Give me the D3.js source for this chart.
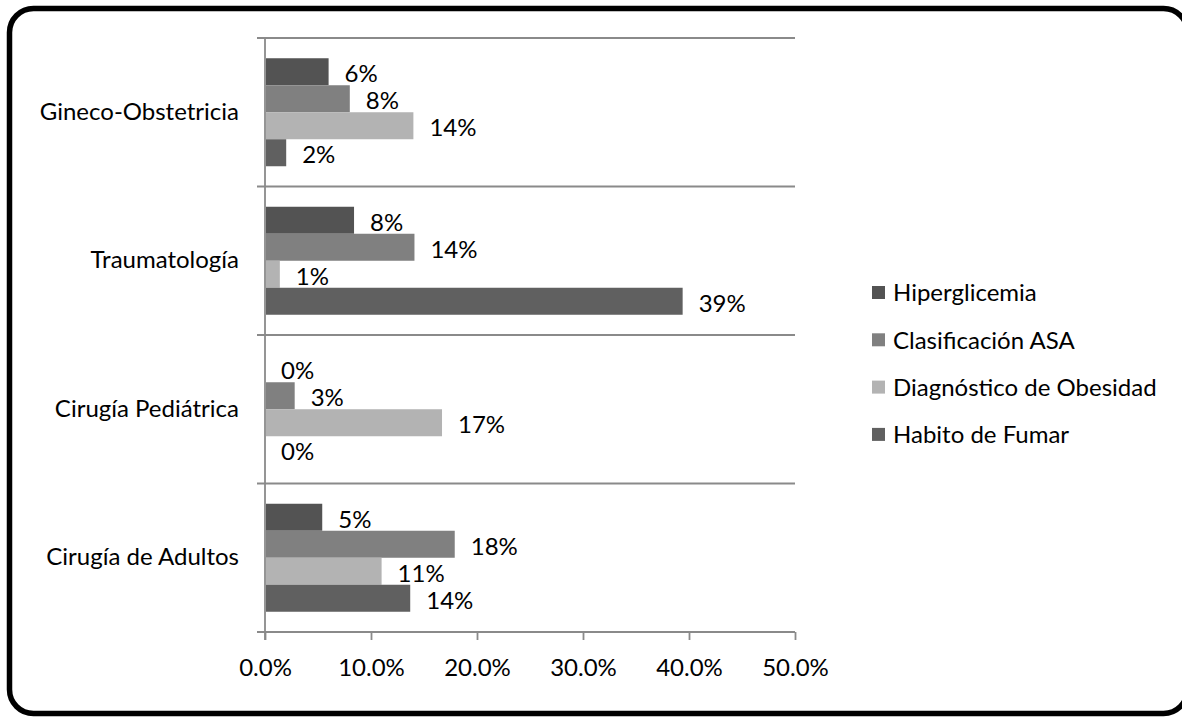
<!DOCTYPE html>
<html>
<head>
<meta charset="utf-8">
<script src="https://cdn.jsdelivr.net/npm/d3@7"></script>
<style>
  html, body { margin: 0; padding: 0; background: #fff; }
  svg { display: block; }
  text { font-family: Lato, "Open Sans", sans-serif; fill: #000; }
</style>
</head>
<body>
<svg id="chart" width="1182" height="717"></svg>
<script>
// Categories, top to bottom
const categories = ["Gineco-Obstetricia", "Traumatología", "Cirugía Pediátrica", "Cirugía de Adultos"];

// Series names (bar order inside each group, top to bottom)
const seriesNames = ["Hiperglicemia", "Clasificación ASA", "Diagnóstico de Obesidad", "Habito de Fumar"];

// Values per series, in category order
const hiperglicemia = [0.060, 0.084, 0.000, 0.054];
const clasificacionASA = [0.080, 0.141, 0.028, 0.179];
const obesidad = [0.140, 0.014, 0.167, 0.110];
const fumar = [0.020, 0.394, 0.000, 0.137];

// Axis ticks
const xTicks = [0, 0.1, 0.2, 0.3, 0.4, 0.5];

const seriesValues = [hiperglicemia, clasificacionASA, obesidad, fumar];
const seriesColors = ["#535353", "#808080", "#b3b3b3", "#606060"];

const FONT = "24px";
const svg = d3.select("#chart");
const plot = { left: 265, right: 795, top: 38, bottom: 632 };

// Rounded frame (its right side runs past the page edge)
svg.append("rect")
  .attr("x", 9.5).attr("y", 8.5)
  .attr("width", 1178).attr("height", 705)
  .attr("rx", 24).attr("ry", 24)
  .attr("fill", "#fff").attr("stroke", "#000").attr("stroke-width", 5.5);

const x = d3.scaleLinear().domain([0, 0.5]).range([plot.left, plot.right]);
const y = d3.scaleBand().domain(categories).range([plot.top, plot.bottom]).padding(0);
const yInner = d3.scaleBand().domain(seriesNames).range([0, y.bandwidth()])
  .paddingInner(0).paddingOuter(0.75);

const axisColor = "#8a8a8a";

// Horizontal separators between categories (extend left as tick marks)
const boundaries = categories.map(c => y(c));
svg.append("g").selectAll("line")
  .data(boundaries)
  .join("line")
  .attr("x1", plot.left - 8).attr("x2", plot.right)
  .attr("y1", d => d).attr("y2", d => d)
  .attr("stroke", axisColor).attr("stroke-width", 1.8);

// Bottom value axis
const xAxis = d3.axisBottom(x).tickValues(xTicks).tickFormat(d3.format(".1%")).tickSize(8).tickSizeOuter(0);
const gx = svg.append("g").attr("transform", `translate(0,${plot.bottom})`).call(xAxis);
gx.select(".domain").attr("stroke", axisColor).attr("stroke-width", 1.8)
  .attr("d", `M${plot.left - 8},0H${plot.right}`);
gx.selectAll(".tick line").attr("stroke", axisColor).attr("stroke-width", 1.8);
gx.selectAll(".tick text")
  .attr("y", 36).attr("dy", "0.35em")
  .style("font-family", "Lato, sans-serif").style("font-size", FONT).attr("fill", "#000");

// Vertical category axis line
svg.append("line")
  .attr("x1", plot.left).attr("x2", plot.left)
  .attr("y1", plot.top).attr("y2", plot.bottom + 8)
  .attr("stroke", axisColor).attr("stroke-width", 1.8);

// Category labels
const yAxis = d3.axisLeft(y).tickSize(0).tickPadding(26);
const gy = svg.append("g").attr("transform", `translate(${plot.left},0)`).call(yAxis);
gy.select(".domain").remove();
gy.selectAll(".tick text")
  .style("font-family", "Lato, sans-serif").style("font-size", FONT).attr("fill", "#000");

// Bars and value labels
const flat = [];
categories.forEach((c, ci) => {
  seriesNames.forEach((s, si) => {
    flat.push({ cat: c, series: s, si, value: seriesValues[si][ci] });
  });
});

const barG = svg.append("g");
barG.selectAll("rect")
  .data(flat)
  .join("rect")
  .attr("x", x(0) + 1)
  .attr("y", d => y(d.cat) + yInner(d.series))
  .attr("width", d => Math.max(0, x(d.value) - x(0) - 1))
  .attr("height", yInner.bandwidth())
  .attr("fill", d => seriesColors[d.si]);

const fmt = d3.format(".0%");
barG.selectAll("text")
  .data(flat)
  .join("text")
  .attr("x", d => x(d.value) + 16)
  .attr("y", d => y(d.cat) + yInner(d.series) + yInner.bandwidth() / 2 + 2)
  .attr("dy", "0.35em")
  .style("font-size", FONT)
  .text(d => fmt(d.value));

// Legend
const legend = svg.append("g").attr("transform", "translate(872,293)");
const items = legend.selectAll("g")
  .data(seriesNames)
  .join("g")
  .attr("transform", (d, i) => `translate(0,${i * 47.3})`);
items.append("rect")
  .attr("x", 0).attr("y", -7).attr("width", 13).attr("height", 13)
  .attr("fill", (d, i) => seriesColors[i]);
items.append("text")
  .attr("x", 21).attr("y", 0).attr("dy", "0.35em")
  .style("font-size", FONT)
  .text(d => d);
</script>
</body>
</html>
